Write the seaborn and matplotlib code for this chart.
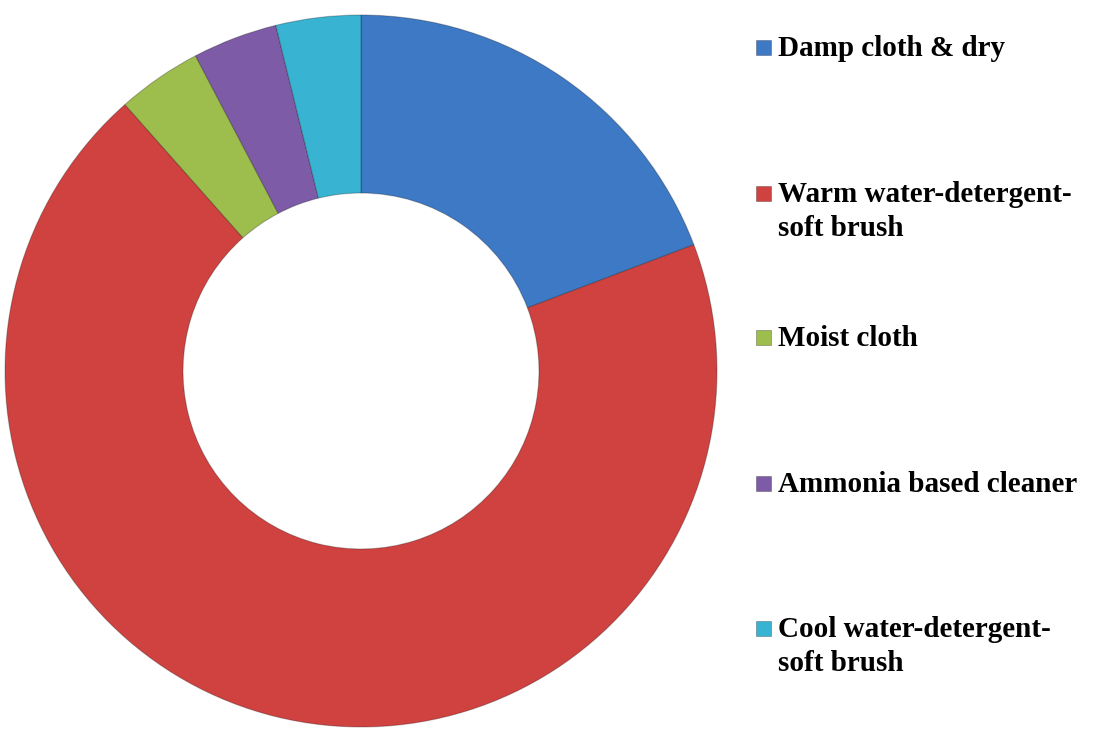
import matplotlib
matplotlib.use("Agg")
import matplotlib.pyplot as plt
import seaborn as sns
from matplotlib.patches import Rectangle

# cleaning methods and how many responses each got
methods = ["Damp cloth & dry", "Warm water-detergent-\nsoft brush", "Moist cloth",
           "Ammonia based cleaner", "Cool water-detergent-\nsoft brush"]
counts = [5, 18, 1, 1, 1]
colors = ["#3D79C4", "#CF4240", "#9DBE4C", "#7D5BA6", "#38B3D2"]

sns.set_theme(style="white")
plt.rcParams['font.family'] = ['Liberation Serif', 'DejaVu Serif']

fig = plt.figure(figsize=(10.97, 7.36), dpi=100)
W, H = 1097, 736

# donut centred at (361, 371) px with radius ~356 px
ax = fig.add_axes([5 / W, 9 / H, 712 / W, 712 / H])
ax.pie(counts, colors=colors, startangle=90, counterclock=False, radius=1,
       wedgeprops=dict(width=0.5, edgecolor=(0, 0, 0, 0.25), linewidth=0.8))
ax.set_xlim(-1, 1)
ax.set_ylim(-1, 1)
ax.set_aspect("equal")
ax.axis("off")

# legend drawn by hand so spacing matches the original
baselines = [56, 202, 346, 492, 637]
line_step = 34
for lab, col, yb in zip(methods, colors, baselines):
    fig.patches.append(Rectangle((756 / W, 1 - (yb - 1) / H), 15 / W, 15 / H,
                                 transform=fig.transFigure, facecolor=col,
                                 edgecolor=(0, 0, 0, 0.3), linewidth=0.6))
    for i, line in enumerate(lab.split("\n")):
        fig.text(778 / W, 1 - (yb + i * line_step) / H, line, fontsize=21,
                 fontweight="bold", va="baseline", ha="left", color="black")

fig.savefig("out.png", dpi=100, facecolor="white")
